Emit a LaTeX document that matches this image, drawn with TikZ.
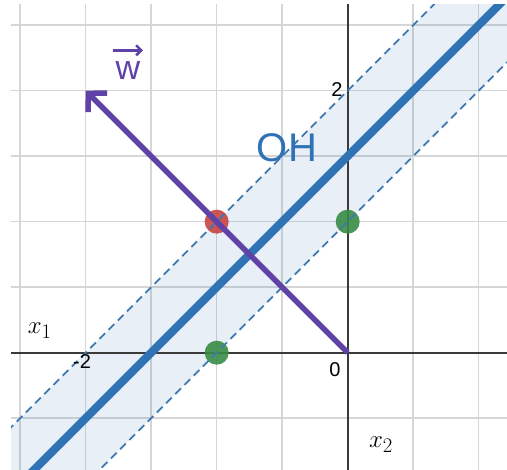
\documentclass[tikz,border=0pt]{standalone}
\usepackage{fontspec}
\setmainfont{Liberation Sans}
\usetikzlibrary{arrows.meta}
\definecolor{dblue}{HTML}{2F72B6}
\definecolor{dashblue}{HTML}{3F78B0}
\definecolor{dred}{HTML}{C74440}
\definecolor{dgreen}{HTML}{388C46}
\definecolor{dpurple}{HTML}{6042A6}
\definecolor{gridgray}{HTML}{D6D6D6}
\definecolor{axisgray}{HTML}{3A3A3A}
\tikzset{
  gridline/.style={draw=gridgray, line width=1.4pt},
  axisline/.style={draw=axisgray, line width=2pt},
  bandline/.style={draw=dashblue, line width=1.8pt, dash pattern=on 8pt off 5pt},
  mainline/.style={draw=dblue, line width=8pt},
  vecline/.style={draw=dpurple, line width=5.5pt, -{Straight Barb[length=13pt,width=27pt,line width=5.5pt]}},
  wvec/.style={draw=dpurple, line width=2.6pt, -{Straight Barb[length=5pt,width=10pt,line width=2.6pt]}},
  dot/.style={circle, inner sep=0pt, minimum size=24pt, fill=#1, fill opacity=0.9},
  ticklabel/.style={font=\fontsize{20}{22}\selectfont, text=black, inner sep=0pt},
  axlabel/.style={font=\fontsize{30}{32}\selectfont, inner sep=0pt}
}
\begin{document}
\begin{tikzpicture}[x=131pt,y=131pt]
\fill[white] (-2.654,-0.888) rectangle (1.216,2.692);
\useasboundingbox (-2.654,-0.888) rectangle (1.216,2.692);
\coordinate (O) at (0,0);
\coordinate (W) at (-2,2);
\coordinate (U1) at (-4,-2);
\coordinate (U2) at (1.5,3.5);
\coordinate (L1) at (-3,-2);
\coordinate (L2) at (2.5,3.5);
\coordinate (M1) at (-3.5,-2);
\coordinate (M2) at (2,3.5);
\begin{scope}
\clip (-2.570,-0.888) rectangle (1.216,2.654);
\draw[gridline] (-3,-1) grid[step=0.5] (2,3);
\fill[dblue, opacity=0.11] (U1) -- (U2) -- (L2) -- (L1) -- cycle;
\draw[axisline] (-3,0) -- (2,0);
\draw[axisline] (0,-1) -- (0,3);
\node[dot=dred] (R) at (-1,1) {};
\node[dot=dgreen] (G1) at (0,1) {};
\node[dot=dgreen] (G2) at (-1,0) {};
\draw[bandline] (U1) -- (U2);
\draw[bandline] (L1) -- (L2);
\draw[mainline] (M1) -- (M2);
\draw[vecline] (O) -- (W);
\end{scope}
\node[ticklabel] (t2) at (-0.082,2.005) {2};
\node[ticklabel] (tm2) at (-2.028,-0.071) {-2};
\node[ticklabel] (t0) at (-0.097,-0.132) {0};
\node[axlabel] (x1) at (-2.35,0.17) {$x_1$};
\node[axlabel] (x2) at (0.254,-0.70) {$x_2$};
\node[font=\fontsize{40}{44}\selectfont, text=dblue, inner sep=0pt] (OH) at (-0.464,1.563) {OH};
\node[font=\fontsize{34}{36}\selectfont, text=dpurple, inner sep=0pt] (w) at (-1.677,2.154) {w};
\draw[wvec] ([xshift=-15pt,yshift=11pt]w.north) -- ([xshift=15pt,yshift=11pt]w.north);
\end{tikzpicture}
\end{document}
